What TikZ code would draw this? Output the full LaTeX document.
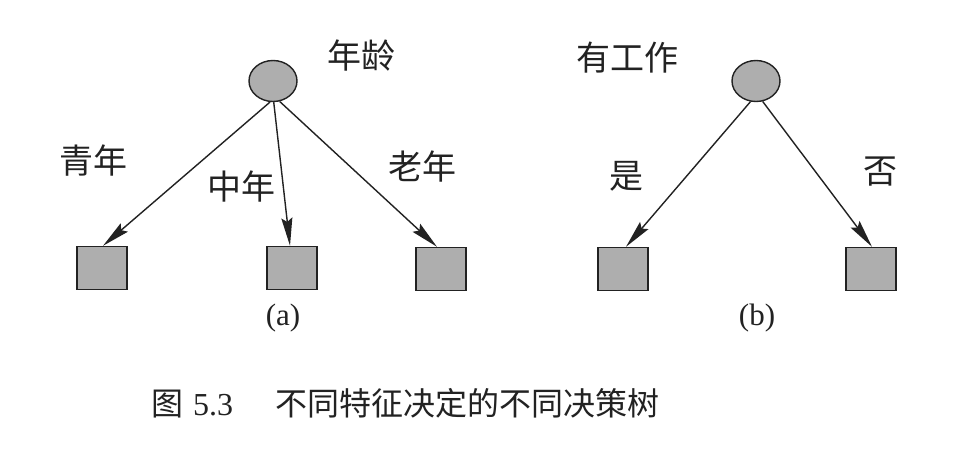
\documentclass[tikz,border=0pt]{standalone}
\usepackage{fontspec}
\setmainfont{Liberation Serif}
\newfontfamily\cjk{Noto Sans CJK SC}
\usetikzlibrary{shapes.geometric,arrows.meta}
\definecolor{ink}{HTML}{222222}
\definecolor{boxfill}{HTML}{AEAEAE}
\tikzset{
  rootnode/.style={ellipse,draw=ink,fill=boxfill,line width=1.4pt,minimum width=48pt,minimum height=41pt,inner sep=0pt},
  leafnode/.style={rectangle,draw=ink,fill=boxfill,line width=1.4pt,minimum width=50pt,minimum height=43pt,inner sep=0pt},
  branch/.style={draw=ink,line width=1.4pt,-{Stealth[length=28pt,width=11pt,inset=4pt]}},
  lbl/.style={text=ink,inner sep=0pt,font=\cjk\fontsize{34}{40}\selectfont},
  sub/.style={text=ink,inner sep=0pt,font=\fontsize{31}{36}\selectfont},
}
\begin{document}
\begin{tikzpicture}[x=1pt,y=-1pt]
\useasboundingbox[fill=white] (0,0) rectangle (970,448);
% tree (a)
\node[rootnode] (ra) at (273,81) {};
\node[lbl] (ta) at (361,56) {年龄};
\node[leafnode] (a1) at (102,268) {};
\node[leafnode] (a2) at (292,268) {};
\node[leafnode] (a3) at (441,269) {};
\draw[branch] (ra.-98) -- ([xshift=1pt]a1.north);
\draw[branch] (ra.-88) -- ([xshift=-2pt]a2.north);
\draw[branch] (ra.-72) -- ([xshift=-4pt]a3.north);
\node[lbl] (la1) at (93,161) {青年};
\node[lbl] (la2) at (241,187) {中年};
\node[lbl] (la3) at (422,167) {老年};
\node[sub] (capa) at (283,318) {(a)};
% tree (b)
\node[rootnode] (rb) at (756,81) {};
\node[lbl] (tb) at (627,58) {有工作};
\node[leafnode] (b1) at (623,269) {};
\node[leafnode] (b2) at (871,269) {};
\draw[branch] (rb.-105) -- ([xshift=3pt]b1.north);
\draw[branch] (rb.-72) -- ([xshift=1pt]b2.north);
\node[lbl] (lb1) at (626,176) {是};
\node[lbl] (lb2) at (880,172) {否};
\node[sub] (capb) at (757,318) {(b)};
% caption
\node[text=ink,inner sep=0pt,anchor=west,font=\fontsize{32}{38}\selectfont] (cap) at (151,403)
  {{\cjk 图}\hspace{10pt}5.3\hspace{42pt}{\cjk 不同特征决定的不同决策树}};
\end{tikzpicture}
\end{document}
